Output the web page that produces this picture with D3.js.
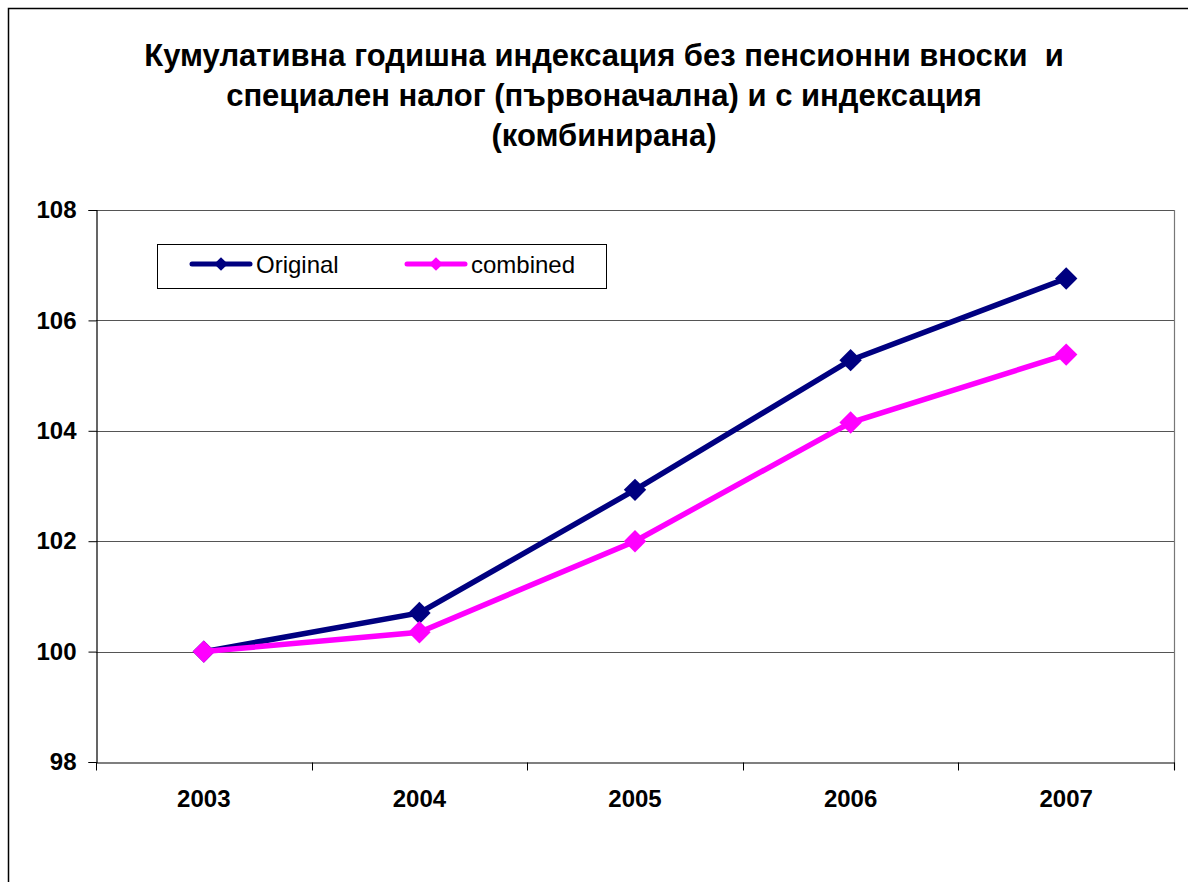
<!DOCTYPE html>
<html>
<head>
<meta charset="utf-8">
<script src="https://cdn.jsdelivr.net/npm/d3@7"></script>
<style>
    body { margin: 0; background: #fff; }
    svg { display: block; font-family: Arial, "Liberation Sans", sans-serif; }
</style>
</head>
<body>
<div id="chart"></div>
<script>
// chart data
var years = ['2003', '2004', '2005', '2006', '2007'];
var original = [100, 100.70, 102.93, 105.28, 106.76];
var combined = [100, 100.35, 102.0, 104.15, 105.38];
var yTicks = [98, 100, 102, 104, 106, 108];
var titleLines = [
    'Кумулативна годишна индексация без пенсионни вноски  и',
    'специален налог (първоначална) и с индексация',
    '(комбинирана)'
];
var seriesNames = ['Original', 'combined'];
var seriesColors = ['#000080', '#ff00ff'];

var width = 1188;
var height = 882;
var plot = { left: 96, right: 1174, top: 210, bottom: 762 };

var svg = d3.select('#chart')
    .append('svg')
    .attr('width', width)
    .attr('height', height);

// outer chart border (runs off the page on the right and bottom)
svg.append('path')
    .attr('d', 'M8.5,' + height + 'V8.5H' + width)
    .attr('fill', 'none')
    .attr('stroke', '#000')
    .attr('stroke-width', 1.5);

// title
svg.append('g')
    .selectAll('text')
    .data(titleLines)
    .enter()
    .append('text')
    .attr('x', 604)
    .attr('y', function(d, i) { return 66 + i * 40; })
    .attr('text-anchor', 'middle')
    .style('font-size', '31px')
    .style('font-weight', 'bold')
    .style('white-space', 'pre')
    .text(function(d) { return d; });

var x = d3.scaleBand()
    .domain(years)
    .range([plot.left, plot.right]);

var y = d3.scaleLinear()
    .domain([98, 108])
    .range([plot.bottom, plot.top]);

// gridlines
svg.append('g')
    .selectAll('line')
    .data(yTicks.slice(1))
    .enter()
    .append('line')
    .attr('x1', plot.left)
    .attr('x2', plot.right)
    .attr('y1', function(d) { return Math.round(y(d)) + 0.5; })
    .attr('y2', function(d) { return Math.round(y(d)) + 0.5; })
    .attr('stroke', '#555')
    .attr('stroke-width', 1.2);

// right border of plot area
svg.append('line')
    .attr('x1', plot.right + 0.5)
    .attr('x2', plot.right + 0.5)
    .attr('y1', plot.top)
    .attr('y2', plot.bottom + 8)
    .attr('stroke', '#777')
    .attr('stroke-width', 1.2);

// y axis
var yAxis = svg.append('g')
    .attr('transform', 'translate(' + (plot.left + 0.5) + ',0)')
    .call(d3.axisLeft(y).tickValues(yTicks).tickSize(8).tickPadding(12).tickFormat(d3.format('d')));
yAxis.selectAll('text')
    .style('font-size', '24px')
    .style('font-weight', 'bold')
    .attr('fill', '#000');
yAxis.select('.domain').attr('stroke', '#000').attr('stroke-width', 1.2);
yAxis.selectAll('.tick line').attr('stroke', '#000');

// x axis with ticks on the band edges
var xAxis = svg.append('g')
    .attr('transform', 'translate(0,' + (plot.bottom + 0.5) + ')')
    .call(d3.axisBottom(x).tickSize(0));
xAxis.selectAll('text')
    .attr('y', 44)
    .attr('dy', null)
    .style('font-size', '24px')
    .style('font-weight', 'bold')
    .attr('fill', '#000');
xAxis.select('.domain').attr('stroke', '#000').attr('stroke-width', 1.2);

var edges = years.map(function(d) { return x(d); }).concat([plot.right]);
xAxis.selectAll('.edge')
    .data(edges)
    .enter()
    .append('line')
    .attr('class', 'edge')
    .attr('x1', function(d) { return Math.round(d) + 0.5; })
    .attr('x2', function(d) { return Math.round(d) + 0.5; })
    .attr('y1', 0)
    .attr('y2', 8)
    .attr('stroke', '#000');

// lines and markers
var line = d3.line()
    .x(function(d, i) { return x(years[i]) + x.bandwidth() / 2; })
    .y(function(d) { return y(d); });

var diamond = d3.symbol().type(d3.symbolDiamond2).size(320);

[original, combined].forEach(function(values, s) {
    var g = svg.append('g');
    g.append('path')
        .datum(values)
        .attr('d', line)
        .attr('fill', 'none')
        .attr('stroke', seriesColors[s])
        .attr('stroke-width', 5.5);
    g.selectAll('path.marker')
        .data(values)
        .enter()
        .append('path')
        .attr('class', 'marker')
        .attr('d', diamond)
        .attr('transform', function(d, i) {
            return 'translate(' + (x(years[i]) + x.bandwidth() / 2) + ',' + y(d) + ')';
        })
        .attr('fill', seriesColors[s]);
});

// legend
var legend = svg.append('g');
legend.append('rect')
    .attr('x', 157.5)
    .attr('y', 244.5)
    .attr('width', 449)
    .attr('height', 44)
    .attr('fill', '#fff')
    .attr('stroke', '#000')
    .attr('stroke-width', 1);

var legendX = [192, 407];
seriesNames.forEach(function(name, s) {
    var lx = legendX[s];
    legend.append('line')
        .attr('x1', lx)
        .attr('x2', lx + 58)
        .attr('y1', 264)
        .attr('y2', 264)
        .attr('stroke', seriesColors[s])
        .attr('stroke-width', 5)
        .attr('stroke-linecap', 'round');
    legend.append('path')
        .attr('d', d3.symbol().type(d3.symbolDiamond2).size(120))
        .attr('transform', 'translate(' + (lx + 29) + ',264)')
        .attr('fill', seriesColors[s]);
    legend.append('text')
        .attr('x', lx + 64)
        .attr('y', 273)
        .style('font-size', '24px')
        .text(name);
});
</script>
</body>
</html>
